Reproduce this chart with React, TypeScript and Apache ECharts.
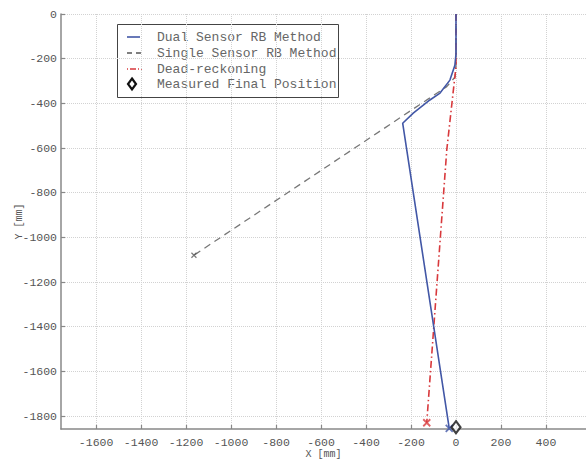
import React, { useEffect, useRef } from "react";
import * as echarts from "echarts";

const xTicks = [-1600, -1400, -1200, -1000, -800, -600, -400, -200, 0, 200, 400];
const yTicks = [0, -200, -400, -600, -800, -1000, -1200, -1400, -1600, -1800];

const dualX = [0, 0, -5, -27, -71, -116, -190, -237, -30];
const dualY = [0, -180, -230, -296, -354, -385, -444, -489, -1855];

const singleX = [0, 0, -4, -41, -1165];
const singleY = [0, -230, -282, -325, -1080];

const deadX = [0, 0, -41, -130];
const deadY = [0, -235, -609, -1830];

const measuredX = [0];
const measuredY = [-1850];

const legendNames = [
  "Dual Sensor RB Method",
  "Single Sensor RB Method",
  "Dead-reckoning",
  "Measured Final Position",
];

const BLUE = "#4257a6";
const GRAY = "#777777";
const RED = "#d8393c";
const MONO = "'Liberation Mono', 'DejaVu Sans Mono', monospace";
const CROSS = "path://M0,0L10,10M10,0L0,10";

const pairs = (xs: number[], ys: number[]) => xs.map((x, i) => [x, ys[i]]);
const last = (xs: number[], ys: number[]) => [[xs[xs.length - 1], ys[ys.length - 1]]];

export default function App() {
  const ref = useRef<HTMLDivElement>(null);
  useEffect(() => {
    if (!ref.current) return;
    const chart = echarts.init(ref.current, null, { renderer: "svg" });
    const axisCommon = {
      type: "value" as const,
      axisLine: { onZero: false, lineStyle: { color: "#888", width: 1.5 } },
      axisTick: { inside: true, length: 4, lineStyle: { color: "#888", width: 1.2 } },
      splitLine: { show: true, lineStyle: { color: "#d2d2d2", type: "dotted", width: 1 } },
      nameTextStyle: { fontFamily: MONO, fontSize: 10, color: "#555" },
      nameMoveOverlap: false,
    };
    const rowY = [37, 53, 69, 84];
    chart.setOption({
      animation: false,
      backgroundColor: "#ffffff",
      grid: { left: 61, right: 0, top: 14, bottom: 34, containLabel: false, outerBoundsMode: "none" },
      xAxis: {
        ...axisCommon,
        min: -1756,
        max: 578,
        name: "X [mm]",
        nameLocation: "middle",
        nameGap: 20,
        axisTick: { ...axisCommon.axisTick, customValues: xTicks },
        axisLabel: {
          customValues: xTicks,
          formatter: (v: number) => String(v),
          fontFamily: MONO,
          fontSize: 11.5,
          color: "#555",
          margin: 7,
        },
      },
      yAxis: {
        ...axisCommon,
        min: -1858,
        max: 0,
        name: "Y [mm]",
        nameLocation: "middle",
        nameGap: 37,
        axisTick: { ...axisCommon.axisTick, customValues: yTicks },
        axisLabel: {
          customValues: yTicks,
          formatter: (v: number) => String(v),
          fontFamily: MONO,
          fontSize: 11.5,
          color: "#555",
          margin: 4,
        },
      },
      series: [
        {
          name: legendNames[0],
          type: "line",
          data: pairs(dualX, dualY),
          showSymbol: false,
          smooth: false,
          lineStyle: { color: BLUE, width: 1.6 },
          z: 3,
        },
        {
          name: legendNames[1],
          type: "line",
          data: pairs(singleX, singleY),
          showSymbol: false,
          lineStyle: { color: GRAY, width: 1.3, type: [7, 5] },
          z: 2,
        },
        {
          name: legendNames[2],
          type: "line",
          data: pairs(deadX, deadY),
          showSymbol: false,
          lineStyle: { color: RED, width: 1.6, type: [7, 3, 1.5, 3] },
          z: 2,
        },
        {
          type: "scatter",
          data: last(dualX, dualY),
          symbol: CROSS,
          symbolSize: 7,
          itemStyle: { color: "none", borderColor: BLUE, borderWidth: 1.8 },
          z: 4,
        },
        {
          type: "scatter",
          data: last(singleX, singleY),
          symbol: CROSS,
          symbolSize: 5,
          itemStyle: { color: "none", borderColor: "#555", borderWidth: 1.2 },
          z: 4,
        },
        {
          type: "scatter",
          data: last(deadX, deadY),
          symbol: CROSS,
          symbolSize: 7,
          itemStyle: { color: "none", borderColor: RED, borderWidth: 1.8 },
          z: 4,
        },
        {
          name: legendNames[3],
          type: "scatter",
          data: pairs(measuredX, measuredY),
          symbol: "diamond",
          symbolSize: [9, 12],
          itemStyle: { color: "#ffffff", borderColor: "#111", borderWidth: 2.2 },
          z: 5,
        },
      ],
      graphic: [
        {
          type: "group",
          x: 0,
          y: 0,
          silent: true,
          z: 100,
          children: [
            {
              type: "rect",
              shape: { x: 117.5, y: 24.5, width: 221, height: 73 },
              style: { fill: "#ffffff", stroke: "#444", lineWidth: 1 },
            },
            {
              type: "line",
              shape: { x1: 127, y1: rowY[0], x2: 140, y2: rowY[0] },
              style: { stroke: BLUE, lineWidth: 1.6 },
            },
            {
              type: "line",
              shape: { x1: 127, y1: rowY[1], x2: 142, y2: rowY[1] },
              style: { stroke: "#555", lineWidth: 1.3, lineDash: [5, 4] },
            },
            {
              type: "line",
              shape: { x1: 127, y1: rowY[2], x2: 142, y2: rowY[2] },
              style: { stroke: RED, lineWidth: 1.6, lineDash: [1, 2, 6, 2] },
            },
            {
              type: "polygon",
              shape: { points: [[132, rowY[3] - 5.5], [136, rowY[3]], [132, rowY[3] + 5.5], [128, rowY[3]]] },
              style: { fill: "#fff", stroke: "#111", lineWidth: 2.2 },
            },
            ...legendNames.map((name, i) => ({
              type: "text",
              x: 157,
              y: rowY[i],
              style: {
                text: name,
                fontFamily: MONO,
                fontSize: 13,
                fill: "#666",
                verticalAlign: "middle",
              },
            })),
          ],
        },
      ],
    });
    return () => chart.dispose();
  }, []);
  return <div ref={ref} style={{ width: 586, height: 463, position: "absolute", left: 0, top: 0 }} />;
}
